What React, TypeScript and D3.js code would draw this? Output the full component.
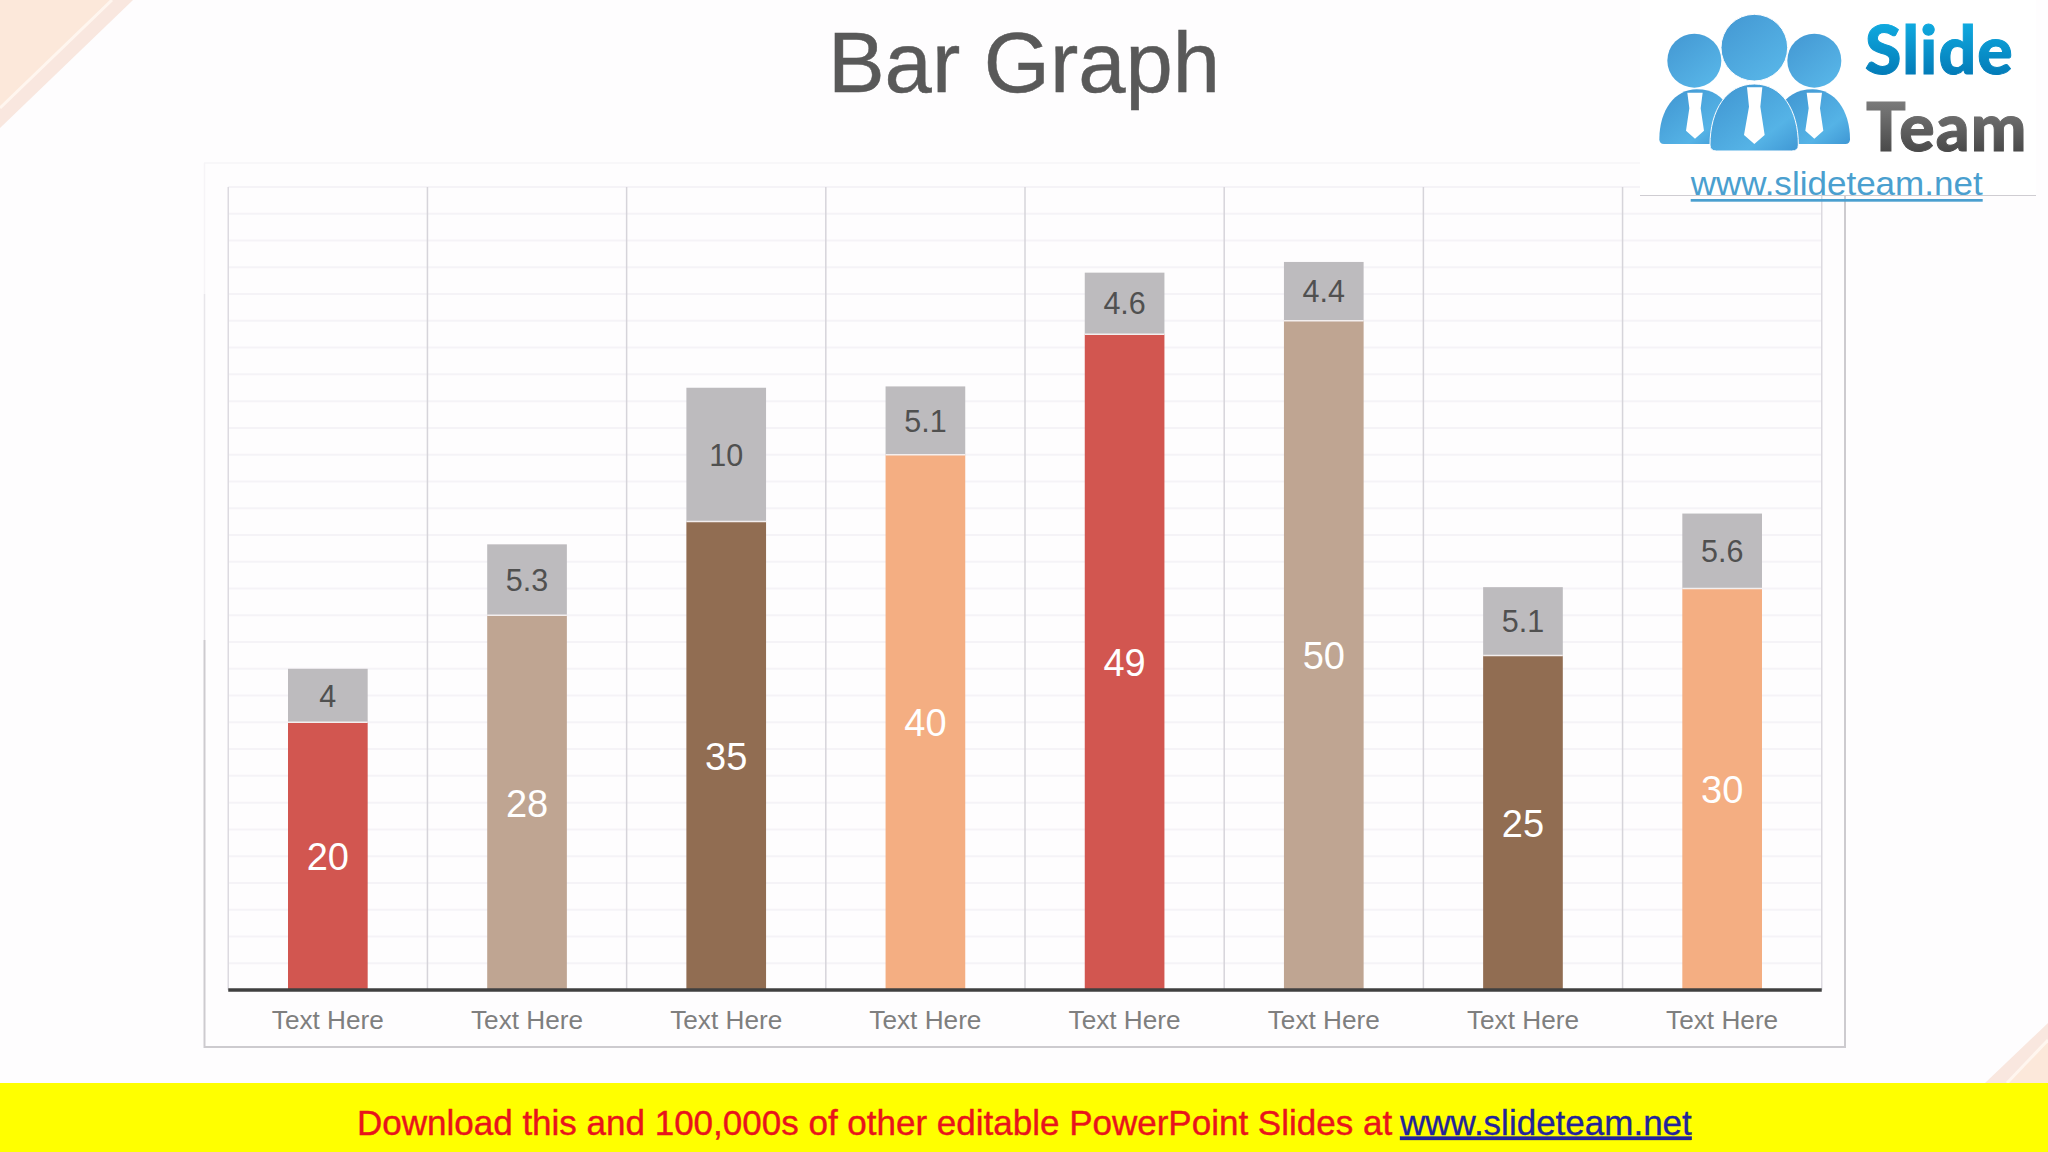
import React from "react";
import * as d3 from "d3";

const categories = ["Text Here", "Text Here", "Text Here", "Text Here", "Text Here", "Text Here", "Text Here", "Text Here"];
const mainValues = [20, 28, 35, 40, 49, 50, 25, 30];
const topValues = [4, 5.3, 10, 5.1, 4.6, 4.4, 5.1, 5.6];
const barColors = ["#d25650", "#bfa592", "#916d52", "#f4ae82", "#d25650", "#bfa592", "#916d52", "#f4ae82"];
const gridTicks = d3.range(0, 62, 2);

const W = 2048, H = 1152;
const L = 228.25, R = 1821.75, T = 187, B = 990;
const FONT = '"Liberation Sans", Arial, sans-serif';
const LOGO_FONT = 'Lato, "Open Sans", sans-serif';

function Logo() {
  return (
    <g>
      <defs>
        <linearGradient id="bodyG" x1="0" y1="0" x2="1" y2="1">
          <stop offset="0" stopColor="#3f94d0" />
          <stop offset="0.7" stopColor="#55b3e6" />
          <stop offset="1" stopColor="#3f97d4" />
        </linearGradient>
        <linearGradient id="headG" x1="0" y1="0" x2="0.8" y2="1">
          <stop offset="0" stopColor="#4397d2" />
          <stop offset="1" stopColor="#58b6e8" />
        </linearGradient>
        <linearGradient id="slideG" x1="0" y1="0" x2="0" y2="1">
          <stop offset="0" stopColor="#13b6ea" />
          <stop offset="1" stopColor="#0070ae" />
        </linearGradient>
        <linearGradient id="teamG" x1="0" y1="0" x2="0" y2="1">
          <stop offset="0" stopColor="#8a8a8a" />
          <stop offset="1" stopColor="#3d3d3d" />
        </linearGradient>
      </defs>
      <g transform="translate(1600,0) scale(0.33333)">
        <circle cx={283} cy={182} r={81} fill="url(#headG)" />
        <circle cx={643} cy={182} r={81} fill="url(#headG)" />
        <path d="M178,418 C178,330 225,268 290,268 C340,268 365,290 385,320 L385,432 L192,432 Q178,432 178,418Z" fill="url(#bodyG)" />
        <path d="M750,418 C750,330 703,268 638,268 C590,268 560,290 540,320 L540,432 L736,432 Q750,432 750,418Z" fill="url(#bodyG)" />
        <path d="M262,278 L308,278 L302,325 L312,392 L285,416 L258,392 L268,325Z" fill="#fff" />
        <path d="M620,278 L666,278 L660,325 L670,392 L643,416 L616,392 L626,325Z" fill="#fff" />
        <circle cx={463} cy={143} r={100} fill="url(#headG)" stroke="#fefdfe" strokeWidth={3} />
        <path d="M330,435 C330,330 380,252 463,252 C546,252 595,330 595,435 Q595,453 575,453 L350,453 Q330,453 330,435Z" fill="url(#bodyG)" stroke="#fefdfe" strokeWidth={3} />
        <path d="M441,262 L487,262 L481,320 L494,405 L463,432 L432,405 L447,320Z" fill="#fff" />
      </g>
      <text x={1865} y={74} fontFamily={LOGO_FONT} fontWeight={900} fontSize={66} letterSpacing={1.2} fill="url(#slideG)" stroke="url(#slideG)" strokeWidth={1}>Slide</text>
      <text x={1866} y={150.5} fontFamily={LOGO_FONT} fontWeight={900} fontSize={66} letterSpacing={1.2} fill="url(#teamG)" stroke="url(#teamG)" strokeWidth={1}>Team</text>
      <text x={1690.7} y={195} fontFamily={FONT} fontSize={32.7} fill="#4a9fcf" textLength={292} lengthAdjust="spacingAndGlyphs">www.slideteam.net</text>
      <rect x={1690.7} y={199} width={292} height={2.7} fill="#4a9fcf" />
    </g>
  );
}

export default function App() {
  const x = d3.scaleBand<number>().domain(d3.range(categories.length)).range([L, R]).paddingInner(0.6).paddingOuter(0.3);
  const y = d3.scaleLinear().domain([0, 60]).range([B, T]);
  const step = x.step();
  const edges = d3.range(categories.length + 1).map((i) => L + i * step);

  return (
    <svg width={W} height={H} viewBox={`0 0 ${W} ${H}`} style={{ position: "absolute", left: 0, top: 0, display: "block" }} fontFamily={FONT}>
      <rect width={W} height={H} fill="#fefdfe" />
      <polygon points="0,0 133,0 0,128" fill="#f9e7df" />
      <polygon points="0,0 110,0 0,108" fill="#fce8da" />
      <line x1={112} y1={0} x2={0} y2={108} stroke="#fff6ef" strokeWidth={3} />
      <polygon points="1985,1083 2048,1023 2048,1083" fill="#f9e7df" />
      <polygon points="2007,1083 2048,1040 2048,1083" fill="#fce8da" />
      <line x1={2007} y1={1083} x2={2048} y2={1040} stroke="#fff6ef" strokeWidth={3} />

      <text x={1024} y={92} textAnchor="middle" fontSize={85} fill="#595959" stroke="#595959" strokeWidth={0.5}>Bar Graph</text>

      <line x1={204} y1={163} x2={1845} y2={163} stroke="#f6f4f7" strokeWidth={1.5} />
      <path d="M204.5,163 V294" fill="none" stroke="#f6f4f7" strokeWidth={1.5} />
      <path d="M204.5,294 V640" fill="none" stroke="#e8e6ea" strokeWidth={1.5} />
      <path d="M204.5,640 V1047 H1845 V186" fill="none" stroke="#cdcbcf" strokeWidth={2} />

      {gridTicks.map((t) => (
        <line key={t} x1={L} x2={R} y1={y(t)} y2={y(t)} stroke="#f5f3f7" strokeWidth={2} />
      ))}
      {edges.map((e, i) => (
        <line key={i} x1={e} x2={e} y1={T} y2={B} stroke={i === 0 || i === 8 ? "#dcdae0" : "#d6d4da"} strokeWidth={1.5} />
      ))}

      <rect x={1640} y={0} width={396} height={195} fill="#ffffff" />
      <line x1={1640} x2={2036} y1={195.5} y2={195.5} stroke="#cfcdd2" strokeWidth={1.2} />
      <Logo />

      {categories.map((c, i) => {
        const bx = x(i)!;
        const bw = x.bandwidth();
        const cx = bx + bw / 2;
        const m = mainValues[i];
        const t = topValues[i];
        return (
          <g key={i}>
            <rect x={bx} y={y(m + t)} width={bw} height={y(m) - y(m + t)} fill="#bdbbbe" />
            <rect x={bx} y={y(m)} width={bw} height={B - y(m)} fill={barColors[i]} />
            <line x1={bx} x2={bx + bw} y1={y(m)} y2={y(m)} stroke="#f3eeee" strokeWidth={1.5} />
            <text x={cx} y={(y(m) + B) / 2 + 14} textAnchor="middle" fontSize={38} fill="#ffffff">{m}</text>
            <text x={cx} y={(y(m + t) + y(m)) / 2 + 11} textAnchor="middle" fontSize={30.5} fill="#505050">{t}</text>
            <text x={cx} y={1028.5} textAnchor="middle" fontSize={26.2} fill="#7f7f7f">{c}</text>
          </g>
        );
      })}
      <line x1={L} x2={R} y1={B} y2={B} stroke="#404040" strokeWidth={3.5} />

      <rect x={0} y={1083} width={W} height={69} fill="#ffff00" />
      <text x={357} y={1134.5} fontSize={35} fill="#e8141c" stroke="#e8141c" strokeWidth={0.4}>Download this and 100,000s of other editable PowerPoint Slides at</text>
      <text x={1400} y={1134.5} fontSize={35} fill="#23239a" stroke="#23239a" strokeWidth={0.3} textDecoration="underline">www.slideteam.net</text>
    </svg>
  );
}
